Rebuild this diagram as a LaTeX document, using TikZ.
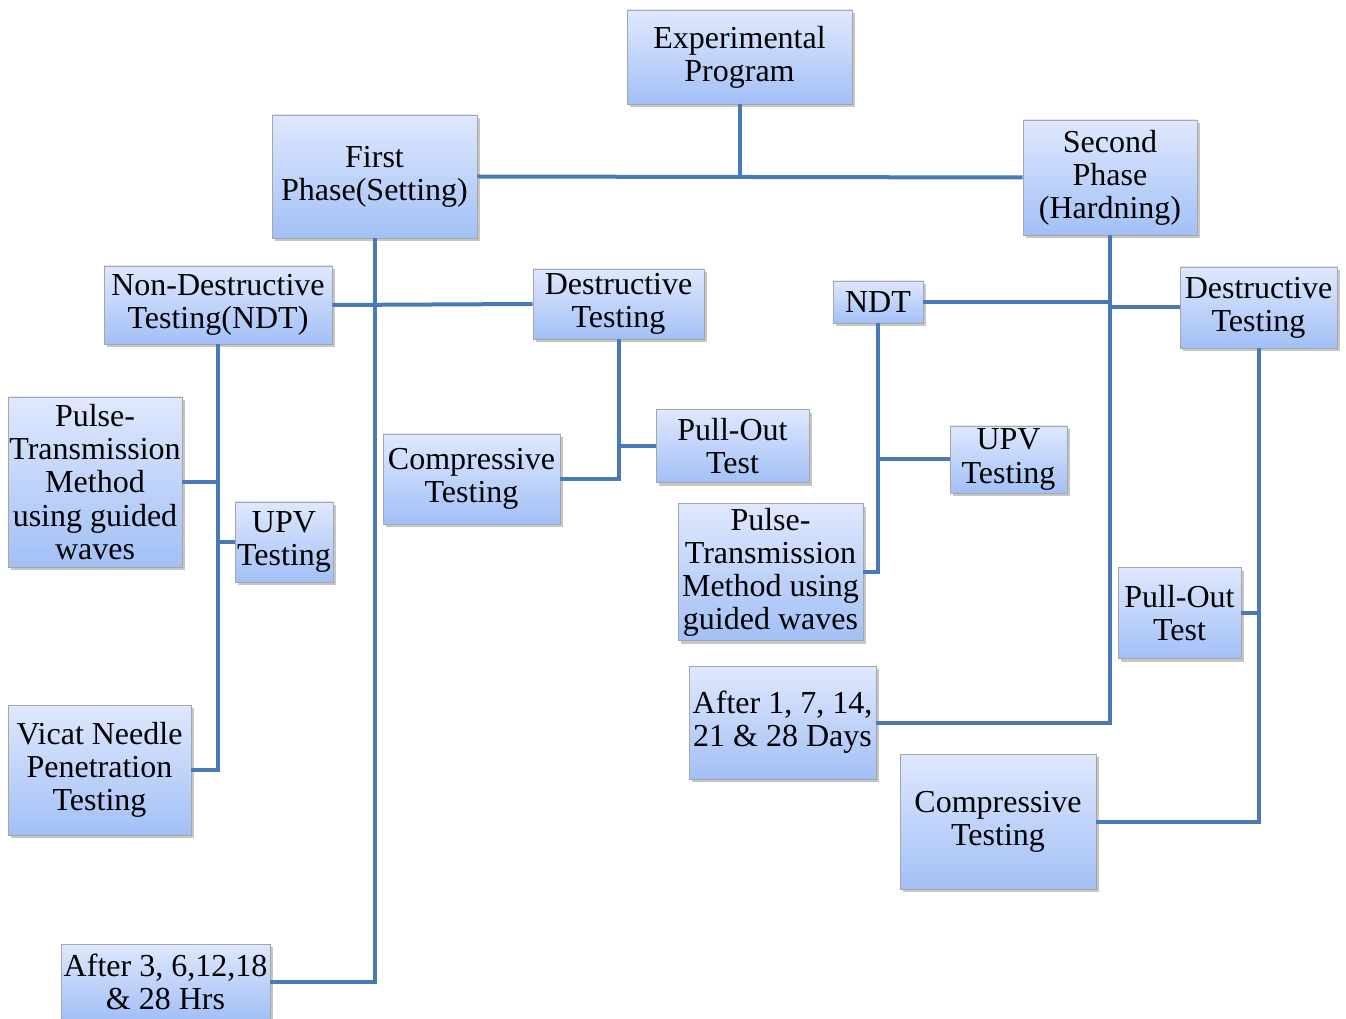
\documentclass[tikz,border=0pt]{standalone}
\usepackage{fontspec}
\setmainfont{Liberation Serif}
\usetikzlibrary{shadows}
\definecolor{boxtop}{HTML}{DFE8FE}
\definecolor{boxbot}{HTML}{A2C0F6}
\definecolor{boxline}{HTML}{A6A6A6}
\definecolor{link}{HTML}{4A7AB6}
\begin{document}
\begin{tikzpicture}[x=0.75pt,y=-0.75pt,
box/.style={draw=boxline,line width=0.6pt,top color=boxtop,bottom color=boxbot,
  align=center,inner sep=0pt,font=\fontsize{24}{24.8}\selectfont,
  drop shadow={shadow xshift=2pt,shadow yshift=-2.5pt,opacity=0.45}},
boxsize/.style 2 args={minimum width=#1*0.75pt,minimum height=#2*0.75pt},
link/.style={draw=link,line width=3pt}]
\useasboundingbox (0,0) rectangle (1346,1019);
% top level
\node[box,boxsize={225}{94}] (exp) at (739.5,57) {Experimental\\Program};
\node[box,boxsize={205}{123}] (first) at (374.5,176.5) {First\\Phase(Setting)};
\node[box,boxsize={174}{115}] (second) at (1110,177.5) {Second\\Phase\\(Hardning)};
% first phase
\node[box,boxsize={228}{78}] (ndt1) at (218,305) {Non-Destructive\\Testing(NDT)};
\node[box,boxsize={171}{70}] (dt1) at (618.5,304) {Destructive\\Testing};
\node[box,boxsize={174}{170}] (pulse1) at (95,482) {Pulse-\\Transmission\\Method\\using guided\\waves};
\node[box,boxsize={98}{80}] (upv1) at (284,542) {UPV\\Testing};
\node[box,boxsize={183}{130}] (vicat) at (99.5,770) {Vicat Needle\\Penetration\\Testing};
\node[box,boxsize={209}{75}] (hrs) at (165.5,981.5) {After 3, 6,12,18\\\& 28 Hrs};
\node[box,boxsize={177}{90}] (comp1) at (471.5,479) {Compressive\\Testing};
\node[box,boxsize={153}{73}] (pull1) at (732.5,446) {Pull-Out\\Test};
% second phase
\node[box,boxsize={90}{42}] (ndt2) at (878,302) {NDT};
\node[box,boxsize={157}{81}] (dt2) at (1258.5,307.5) {Destructive\\Testing};
\node[box,boxsize={185}{137}] (pulse2) at (770.5,572) {Pulse-\\Transmission\\Method using\\guided waves};
\node[box,boxsize={117}{67}] (upv2) at (1008.5,459.5) {UPV\\Testing};
\node[box,boxsize={187}{113}] (days) at (782.5,722.5) {After 1, 7, 14,\\21 \& 28 Days};
\node[box,boxsize={123}{91}] (pull2) at (1179.5,613) {Pull-Out\\Test};
\node[box,boxsize={196}{135}] (comp2) at (998,821.5) {Compressive\\Testing};
% connectors
\path[link] (first.east) -- (second.west);
\path[link] (exp.south) -- (exp.south |- first.east);
\path[link] (first.south) |- (hrs.east);
\path[link] (ndt1.east) -- (dt1.west);
\path[link] (ndt1.south) |- (vicat.east);
\path[link] (pulse1.east) -- (pulse1.east -| ndt1.south);
\path[link] (upv1.west) -- (upv1.west -| ndt1.south);
\path[link] (dt1.south) |- (comp1.east);
\path[link] (pull1.west) -- (pull1.west -| dt1.south);
\path[link] (second.south) |- (days.east);
\path[link] (ndt2.east) -- (ndt2.east -| second.south);
\path[link] (dt2.west) -- (dt2.west -| second.south);
\path[link] (ndt2.south) |- (pulse2.east);
\path[link] (upv2.west) -- (upv2.west -| ndt2.south);
\path[link] (dt2.south) |- (comp2.east);
\path[link] (pull2.east) -- (pull2.east -| dt2.south);
\end{tikzpicture}
\end{document}
